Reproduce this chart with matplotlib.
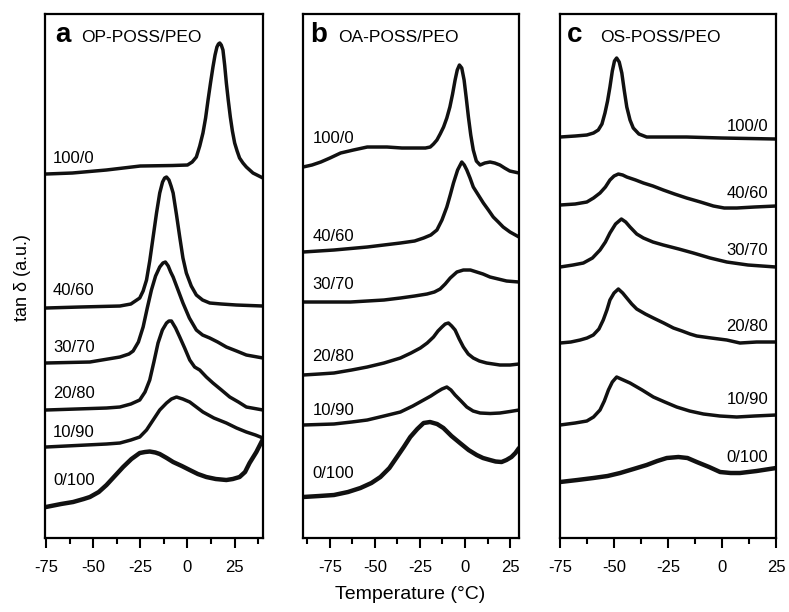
import matplotlib
matplotlib.use("Agg")
import matplotlib.pyplot as plt
from matplotlib.ticker import MultipleLocator

plt.rcParams['font.family'] = ['Liberation Sans', 'DejaVu Sans']
plt.rcParams['axes.unicode_minus'] = False

# ---- data (stacked tan delta, a.u.) ----
blends = ["100/0", "40/60", "30/70", "20/80", "10/90", "0/100"]

# a: OP-POSS/PEO
op_100_0_T = [-75, -61, -43, -25, -8, 0, 2.5, 4.7, 6.5, 8.2, 9.6, 10.9, 12.2, 13.5, 14.6, 15.6, 16.4, 17.1, 17.9, 18.8,
              19.7, 20.6, 21.6, 22.7, 23.8, 25, 26.3, 27.6, 29.4, 31.2, 34.7, 40]
op_100_0_v = [3.64, 3.65, 3.68, 3.72, 3.725, 3.73, 3.76, 3.81, 3.92, 4.05, 4.20, 4.38, 4.55, 4.71, 4.83, 4.91, 4.94, 4.95,
              4.93, 4.88, 4.73, 4.55, 4.38, 4.21, 4.07, 3.95, 3.87, 3.80, 3.75, 3.71, 3.65, 3.60]
op_40_60_T = [-75, -57, -35.8, -30, -25.3, -23.5, -21.7, -20, -18.2, -16.4, -14.7, -13.2, -12.1, -11.1, -9.8, -8.7, -7.6,
              -5.8, -4.1, -2.4, -0.6, 2, 4.7, 8, 11.8, 18, 25.9, 40]
op_40_60_v = [2.30, 2.31, 2.32, 2.34, 2.40, 2.47, 2.58, 2.77, 3.01, 3.25, 3.45, 3.56, 3.60, 3.61, 3.58, 3.52, 3.45,
              3.23, 3.01, 2.80, 2.65, 2.52, 2.43, 2.38, 2.35, 2.34, 2.33, 2.32]
op_30_70_T = [-75, -51.7, -35.8, -31, -28.8, -26, -23.5, -21.3, -19.1, -16.9, -14.7, -13.0, -11.7, -10.2, -8.9, -7.6, -5,
              -2.4, 1, 4.7, 8, 11.8, 16, 20.6, 26, 31.2, 40]
op_30_70_v = [1.75, 1.76, 1.81, 1.84, 1.87, 1.96, 2.11, 2.30, 2.48, 2.62, 2.71, 2.75, 2.76, 2.72, 2.66, 2.61, 2.48,
              2.35, 2.20, 2.08, 2.03, 2.00, 1.96, 1.91, 1.87, 1.83, 1.80]
op_20_80_T = [-75, -42.9, -35.8, -30, -25.3, -22.5, -20, -17.8, -15.6, -13.3, -11.1, -9.8, -8.5, -6.3, -4.1, -1.5, 1.2,
              3.8, 6.5, 10, 13.5, 18, 22.4, 27, 31.2, 40]
op_20_80_v = [1.28, 1.30, 1.31, 1.34, 1.38, 1.46, 1.58, 1.76, 1.95, 2.08, 2.15, 2.17, 2.17, 2.10, 2.01, 1.90, 1.78,
              1.71, 1.68, 1.61, 1.55, 1.48, 1.41, 1.36, 1.31, 1.28]
op_10_90_T = [-75, -42.9, -35.8, -30, -25.3, -21.7, -18.2, -14.7, -11.1, -8.5, -5.8, -2.5, 1.2, 4.7, 8.2, 14, 20.6, 26,
              31.2, 36, 40]
op_10_90_v = [0.91, 0.94, 0.95, 0.98, 1.01, 1.08, 1.18, 1.28, 1.35, 1.39, 1.41, 1.39, 1.36, 1.31, 1.26, 1.20, 1.15, 1.10,
              1.06, 1.03, 1.00]
op_0_100_T = [-75, -67, -60.6, -55, -51.7, -47, -42.9, -38.5, -34.1, -29.7, -25.3, -22.5, -20, -17, -14.7, -11, -7.6, -3,
              1.2, 5.5, 10, 15, 20.6, 24, 27.6, 30.5, 32.9, 36.5, 40]
op_0_100_v = [0.31, 0.34, 0.36, 0.39, 0.41, 0.46, 0.53, 0.62, 0.71, 0.79, 0.85, 0.86, 0.865, 0.855, 0.84, 0.80, 0.76, 0.72,
              0.68, 0.64, 0.61, 0.59, 0.58, 0.59, 0.61, 0.66, 0.75, 0.86, 0.99]

# b: OA-POSS/PEO
oa_100_0_T = [-90, -85, -80.1, -75, -69.1, -62, -54.3, -43.3, -35, -28.5, -22, -19.3, -17.5, -15.6, -13.8, -11.9, -10.1,
              -8.4, -6.9, -5.5, -4.3, -3.1, -1.8, -0.5, 0.7, 1.9, 3.2, 4.6, 6.3, 8.4, 11, 13.9, 16.5, 19.4, 22, 24.9, 30]
oa_100_0_v = [3.71, 3.73, 3.76, 3.80, 3.85, 3.88, 3.91, 3.91, 3.90, 3.90, 3.90, 3.91, 3.94, 3.98, 4.04, 4.11, 4.20,
              4.31, 4.44, 4.58, 4.68, 4.73, 4.70, 4.58, 4.40, 4.21, 4.03, 3.88, 3.77, 3.73, 3.75, 3.76, 3.75, 3.73,
              3.70, 3.67, 3.65]
oa_40_60_T = [-90, -72.8, -54.3, -35.9, -28, -23.0, -19, -15.6, -12.8, -10.1, -8.2, -6.4, -4.1, -1.8, -0.4, 1.0, 2.8,
              4.6, 7.4, 10.2, 13, 15.7, 18.5, 21.2, 25, 30]
oa_40_60_v = [2.86, 2.88, 2.91, 2.95, 2.97, 3.00, 3.03, 3.08, 3.18, 3.31, 3.43, 3.55, 3.68, 3.76, 3.73, 3.68, 3.60,
              3.51, 3.43, 3.35, 3.28, 3.21, 3.16, 3.11, 3.06, 3.01]
oa_30_70_T = [-90, -63.6, -45, -35.9, -28, -21.1, -17, -13.8, -11, -8.2, -4.5, -0.9, 3, 6.5, 10, 13.9, 18.5, 23.1, 30]
oa_30_70_v = [2.36, 2.36, 2.38, 2.40, 2.42, 2.44, 2.46, 2.49, 2.54, 2.60, 2.66, 2.68, 2.68, 2.66, 2.64, 2.61, 2.59,
              2.57, 2.56]
oa_20_80_T = [-90, -81, -72.8, -63, -54.3, -45, -35.9, -30, -24.8, -21, -17.5, -15, -12.8, -11, -9.2, -7.4, -5.5, -3.2,
              -0.9, 1.8, 4.6, 8, 12.0, 19.4, 25, 30]
oa_20_80_v = [1.63, 1.64, 1.65, 1.68, 1.71, 1.75, 1.80, 1.85, 1.90, 1.95, 2.01, 2.07, 2.11, 2.14, 2.15, 2.12, 2.08,
              1.99, 1.91, 1.84, 1.80, 1.77, 1.75, 1.73, 1.73, 1.74]
oa_10_90_T = [-90, -72.8, -63, -54.3, -45, -35.9, -29, -23.0, -19, -15.6, -12.8, -10.1, -7.8, -5.5, -2.2, 1.0, 4.5, 8.4,
              14, 19.4, 25, 30]
oa_10_90_v = [1.13, 1.14, 1.16, 1.18, 1.22, 1.26, 1.32, 1.38, 1.42, 1.46, 1.49, 1.51, 1.48, 1.43, 1.37, 1.31, 1.27,
              1.25, 1.245, 1.25, 1.265, 1.28]
oa_0_100_T = [-90, -81, -72.8, -65, -58.1, -52, -47.0, -42, -37.8, -34, -30.4, -26.5, -23.0, -19.4, -15.5, -12.0, -7.5,
              -2.8, 2, 6.5, 10, 13.9, 17, 20.3, 23, 25.8, 28, 30]
oa_0_100_v = [0.41, 0.42, 0.43, 0.46, 0.50, 0.55, 0.61, 0.70, 0.81, 0.91, 1.01, 1.09, 1.15, 1.16, 1.14, 1.10, 1.02,
              0.95, 0.88, 0.83, 0.80, 0.78, 0.765, 0.76, 0.78, 0.81, 0.85, 0.90]

# c: OS-POSS/PEO
os_100_0_T = [-75, -68, -62.6, -59.5, -57.3, -55.6, -54.2, -53, -51.9, -50.8, -49.8, -48.8, -47.6, -46.4, -45.3, -44.1,
              -42.6, -41.1, -38.5, -34.9, -25, -16.4, 0, 25]
os_100_0_v = [4.01, 4.02, 4.03, 4.05, 4.08, 4.14, 4.25, 4.37, 4.51, 4.67, 4.77, 4.80, 4.76, 4.65, 4.48, 4.31, 4.18,
              4.10, 4.04, 4.01, 4.01, 4.01, 4.00, 3.99]
os_40_60_T = [-75, -68, -62.6, -59.5, -56.5, -54, -51.9, -50, -48.0, -46, -44.1, -40, -36.4, -32, -27.2, -22, -16.4, -10,
              -4.0, 1, 6.8, 15, 25]
os_40_60_v = [3.33, 3.34, 3.36, 3.40, 3.45, 3.51, 3.58, 3.62, 3.64, 3.63, 3.61, 3.58, 3.55, 3.52, 3.48, 3.44, 3.40,
              3.36, 3.32, 3.30, 3.30, 3.31, 3.32]
os_30_70_T = [-75, -69, -64.2, -60, -56.5, -54, -51.9, -49.3, -46.6, -44.6, -42.6, -39.5, -36.4, -32, -27.2, -20, -13.3,
              -5.5, 2.2, 12, 25]
os_30_70_v = [2.71, 2.73, 2.75, 2.80, 2.88, 2.96, 3.05, 3.14, 3.19, 3.16, 3.11, 3.04, 3.00, 2.96, 2.93, 2.89, 2.85,
              2.80, 2.76, 2.73, 2.71]
os_20_80_T = [-75, -70, -65.7, -62.5, -59.6, -57, -55.0, -53.3, -51.9, -50, -48.0, -46, -44.1, -41.8, -39.5, -35.5, -31.8,
              -27, -22.5, -18.5, -14.8, -11.7, -5, 2.2, 8.3, 16, 25]
os_20_80_v = [1.95, 1.96, 1.98, 2.00, 2.03, 2.09, 2.18, 2.28, 2.38, 2.45, 2.49, 2.45, 2.40, 2.34, 2.29, 2.24, 2.20,
              2.15, 2.10, 2.07, 2.04, 2.02, 2.00, 1.98, 1.95, 1.96, 1.96]
os_10_90_T = [-75, -68, -62.6, -59.5, -56.5, -54.5, -52.6, -50.8, -48.8, -45.7, -42.6, -37, -31.8, -26.5, -21.0, -15,
              -8.6, -1, 6.8, 15, 25]
os_10_90_v = [1.13, 1.15, 1.17, 1.21, 1.28, 1.37, 1.48, 1.56, 1.61, 1.58, 1.55, 1.48, 1.41, 1.36, 1.31, 1.27, 1.24,
              1.22, 1.21, 1.22, 1.23]
os_0_100_T = [-75, -67, -59.6, -53, -47.2, -41, -34.9, -30, -25.6, -20.2, -16, -11.7, -6, -0.9, 4, 8.3, 16, 25]
os_0_100_v = [0.56, 0.58, 0.60, 0.62, 0.65, 0.69, 0.73, 0.77, 0.80, 0.81, 0.80, 0.76, 0.71, 0.66, 0.65, 0.65, 0.67, 0.70]

op_curves = [(op_100_0_T, op_100_0_v), (op_40_60_T, op_40_60_v), (op_30_70_T, op_30_70_v),
             (op_20_80_T, op_20_80_v), (op_10_90_T, op_10_90_v), (op_0_100_T, op_0_100_v)]
oa_curves = [(oa_100_0_T, oa_100_0_v), (oa_40_60_T, oa_40_60_v), (oa_30_70_T, oa_30_70_v),
             (oa_20_80_T, oa_20_80_v), (oa_10_90_T, oa_10_90_v), (oa_0_100_T, oa_0_100_v)]
os_curves = [(os_100_0_T, os_100_0_v), (os_40_60_T, os_40_60_v), (os_30_70_T, os_30_70_v),
             (os_20_80_T, os_20_80_v), (os_10_90_T, os_10_90_v), (os_0_100_T, os_0_100_v)]

# label heights for each blend
op_label_y = [3.80, 2.48, 1.91, 1.45, 1.06, 0.58]
oa_label_y = [4.00, 3.02, 2.54, 1.82, 1.28, 0.65]
os_label_y = [4.12, 3.45, 2.88, 2.12, 1.39, 0.81]

fig = plt.figure(figsize=(7.89, 6.12), dpi=100)

panels = [
    ([0.0570, 0.1209, 0.2763, 0.8562], op_curves, op_label_y, (-75.5, 40), -71.3, 'left',
     'a', 'OP-POSS/PEO', 0.046, 0.168),
    ([0.3840, 0.1209, 0.2738, 0.8562], oa_curves, oa_label_y, (-90, 30), -84.7, 'left',
     'b', 'OA-POSS/PEO', 0.032, 0.163),
    ([0.7098, 0.1209, 0.2738, 0.8562], os_curves, os_label_y, (-75, 25), 21.4, 'right',
     'c', 'OS-POSS/PEO', 0.031, 0.185),
]

for rect, curves, label_y, xlim, lab_x, lab_ha, letter, name, lx, nx in panels:
    ax = fig.add_axes(rect)
    for i, (T, v) in enumerate(curves):
        lw = 3.2 if i == len(curves) - 1 else 2.5
        ax.plot(T, v, color='#111111', lw=lw, solid_joinstyle='round', solid_capstyle='round')
        ax.text(lab_x, label_y[i], blends[i], ha=lab_ha, va='center', fontsize=12)
    ax.set_xlim(*xlim)
    ax.set_ylim(0, 5.24)
    ax.set_yticks([])
    ax.xaxis.set_major_locator(MultipleLocator(25))
    ax.xaxis.set_minor_locator(MultipleLocator(12.5))
    ax.tick_params(axis='x', which='major', direction='out', length=7, width=1.5, labelsize=12, pad=9)
    ax.tick_params(axis='x', which='minor', direction='out', length=4, width=1.5)
    for sp in ax.spines.values():
        sp.set_linewidth(1.6)
    ax.text(lx, 0.947, letter, transform=ax.transAxes, fontsize=20, fontweight='bold',
            ha='left', va='baseline')
    ax.text(nx, 0.947, name, transform=ax.transAxes, fontsize=12.5, ha='left', va='baseline')

fig.text(0.028, 0.547, 'tan δ (a.u.)', rotation=90, ha='center', va='center', fontsize=13)
fig.text(0.52, 0.029, 'Temperature (°C)', ha='center', va='center', fontsize=14)

fig.savefig('out.png', dpi=100)
